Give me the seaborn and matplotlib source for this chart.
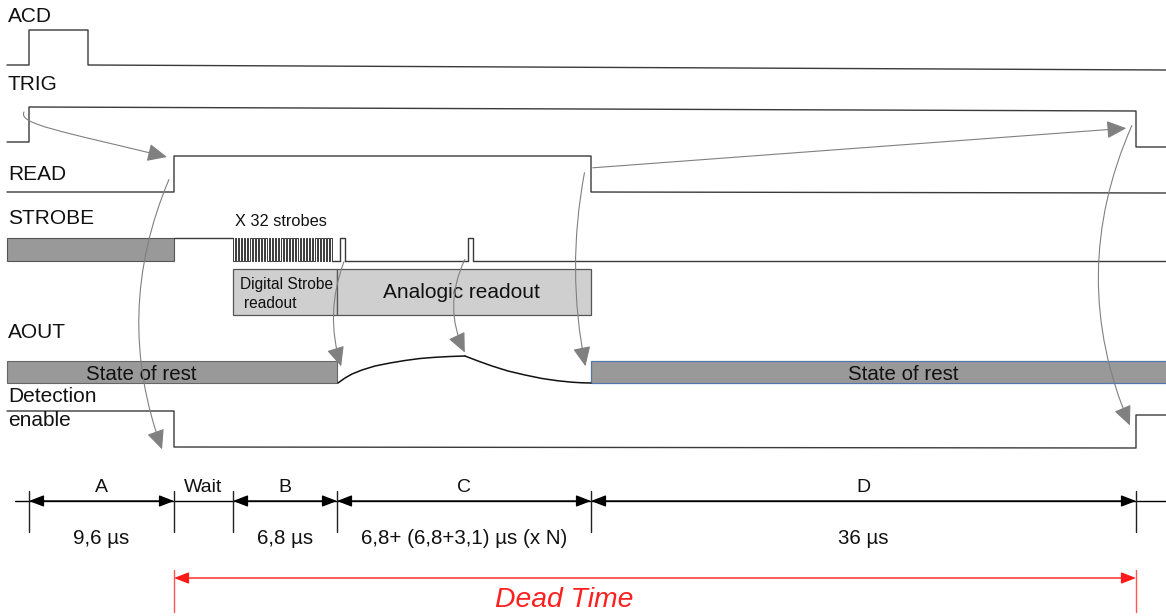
import matplotlib
matplotlib.use("Agg")
import matplotlib.pyplot as plt
import seaborn as sns
from matplotlib.patches import Rectangle, FancyArrowPatch
from matplotlib.path import Path

# ---------------- data (diagram units: horizontal = time axis, vertical = lane) --------------
# key instants on the time axis
t_start, t_trig, t_acd_end, t_read, t_b, t_c, t_d, t_end, t_right = 7, 29, 88, 174, 233, 337, 591, 1136, 1166
t_pulse1, t_pulse2, pulse_w = 340, 468, 5
n_strobes = 32
t_strobe_end = 332

acd_x = [t_start, t_trig, t_trig, t_acd_end, t_acd_end, t_right]
acd_y = [65, 65, 30, 30, 65, 70]

trig_x = [t_start, t_trig, t_trig, t_end, t_end, t_right]
trig_y = [142, 142, 107, 111, 147, 147]

read_x = [t_start, t_read, t_read, t_d, t_d, t_right]
read_y = [192, 192, 156, 156, 192, 193]

det_x = [t_start, t_read, t_read, t_end, t_end, t_right]
det_y = [411, 411, 447, 448, 415, 415]

# AOUT analog curve
aout_rise_x = [338, 345, 352, 362, 375, 390, 405, 420, 435, 450, 465]
aout_rise_y = [383, 378, 374, 370, 366, 363, 360.5, 358.5, 357.3, 356.5, 356]
aout_fall_x = [465, 478, 492, 508, 525, 542, 558, 572, 582, 591]
aout_fall_y = [356, 361, 366, 371, 375, 378.5, 380.8, 382.2, 382.8, 383]

lane_labels = ["ACD", "TRIG", "READ", "STROBE", "AOUT", "Detection", "enable"]
lane_label_y = [16, 85, 174, 219, 333, 397, 420]

dim_edges = [t_trig, t_read, t_b, t_c, t_d, t_end]
dim_names = ["A", "Wait", "B", "C", "D"]
dim_values = ["9,6 µs", "", "6,8 µs", "6,8+ (6,8+3,1) µs (x N)", "36 µs"]
dim_arrows = [True, False, True, True, True]

# ---------------- figure ----------------
sns.set_theme(style="white")
plt.rcParams['font.family'] = ['Liberation Sans', 'DejaVu Sans']
fig = plt.figure(figsize=(11.66, 6.16), dpi=100)
ax = fig.add_axes([0, 0, 1, 1])
ax.set_xlim(0, 1166)
ax.set_ylim(616, 0)
ax.axis("off")

sig_col = "#3a3a3a"
lw = 1.0
txt_col = "#111111"

def wave(xs, ys, col=sig_col, w=lw):
    sns.lineplot(x=xs, y=ys, sort=False, estimator=None, color=col, lw=w, ax=ax)

wave(acd_x, acd_y)
wave(trig_x, trig_y)
wave(read_x, read_y)
wave(det_x, det_y)

# STROBE lane
strobe_hi, strobe_lo = 238, 261
ax.add_patch(Rectangle((t_start, strobe_hi), t_read - t_start, strobe_lo - strobe_hi,
                       facecolor="#999999", edgecolor="#555555", lw=0.8))
wave([t_read, t_b], [strobe_hi, strobe_hi])
period = (t_strobe_end - t_b) / n_strobes
sx, sy = [t_b], [strobe_hi]
for i in range(n_strobes):
    x0 = t_b + i * period
    sx += [x0, x0, x0 + period / 2, x0 + period / 2]
    sy += [strobe_hi, strobe_lo, strobe_lo, strobe_hi]
sx += [t_strobe_end, t_strobe_end]
sy += [strobe_hi, strobe_lo]
wave(sx, sy, w=0.7)
wave([t_strobe_end, t_pulse1, t_pulse1, t_pulse1 + pulse_w, t_pulse1 + pulse_w,
      t_pulse2, t_pulse2, t_pulse2 + pulse_w, t_pulse2 + pulse_w, t_right],
     [strobe_lo, strobe_lo, strobe_hi, strobe_hi, strobe_lo,
      strobe_lo, strobe_hi, strobe_hi, strobe_lo, strobe_lo])
ax.text(235, 222, "X 32 strobes", fontsize=11.8, va="center", ha="left", color=txt_col)

# readout boxes
box_top, box_bot = 269, 315
ax.add_patch(Rectangle((t_b, box_top), t_c - t_b, box_bot - box_top,
                       facecolor="#cfcfcf", edgecolor="#555555", lw=0.9))
ax.add_patch(Rectangle((t_c, box_top), t_d - t_c, box_bot - box_top,
                       facecolor="#cfcfcf", edgecolor="#555555", lw=0.9))
ax.text(240, 284, "Digital Strobe", fontsize=11.2, va="center", ha="left", color=txt_col)
ax.text(244, 303, "readout", fontsize=11.2, va="center", ha="left", color=txt_col)
ax.text(461, 293, "Analogic readout", fontsize=15, va="center", ha="center", color=txt_col)

# AOUT lane
rest_top, rest_bot = 361, 383
ax.add_patch(Rectangle((t_start, rest_top), t_c - t_start, rest_bot - rest_top,
                       facecolor="#999999", edgecolor="#666666", lw=0.8))
ax.add_patch(Rectangle((t_d, rest_top), t_right - t_d + 5, rest_bot - rest_top,
                       facecolor="#999999", edgecolor="#5577aa", lw=0.9))
ax.text(141, 374, "State of rest", fontsize=14.8, va="center", ha="center", color=txt_col)
ax.text(903, 374, "State of rest", fontsize=14.8, va="center", ha="center", color=txt_col)
wave(aout_rise_x, aout_rise_y, col="#111111", w=1.1)
wave(aout_fall_x, aout_fall_y, col="#111111", w=1.1)

# lane labels
for lab, y in zip(lane_labels, lane_label_y):
    ax.text(8, y, lab, fontsize=15, va="center", ha="left", color=txt_col)

# causal arrows
arr_col = "#808080"
arr_style = "-|>,head_length=1.1,head_width=0.5"
def carrow(p0, p1, rad):
    a = FancyArrowPatch(p0, p1, connectionstyle=f"arc3,rad={rad}",
                        arrowstyle=arr_style,
                        mutation_scale=11, color=arr_col, lw=0.8, zorder=5)
    ax.add_patch(a)

# hooked arrow TRIG -> READ
hook = Path([(24, 112), (18, 124), (60, 131), (167, 157)],
            [Path.MOVETO, Path.CURVE4, Path.CURVE4, Path.CURVE4])
ax.add_patch(FancyArrowPatch(path=hook, arrowstyle=arr_style, mutation_scale=11,
                             color=arr_col, lw=0.8, zorder=5))
carrow((170, 177), (163, 452), 0.2)
carrow((345, 259), (342, 369), 0.18)
carrow((466, 257), (466, 355), 0.25)
carrow((585, 170), (586, 369), 0.1)
carrow((590, 168), (1129, 128), 0.0)
carrow((1133, 123), (1131, 428), 0.22)

# dimension line
dim_y = 501
ax.plot([15, t_right], [dim_y, dim_y], color="black", lw=1.0)
for x in dim_edges:
    ax.plot([x, x], [491, 532], color="#222222", lw=1.0)
for i, name in enumerate(dim_names):
    x0, x1 = dim_edges[i], dim_edges[i + 1]
    xm = (x0 + x1) / 2
    if dim_arrows[i]:
        ax.annotate("", xy=(x1, dim_y), xytext=(x0, dim_y),
                    arrowprops=dict(arrowstyle="<|-|>,head_length=0.9,head_width=0.35",
                                    mutation_scale=10, color="black", lw=1.0,
                                    shrinkA=0, shrinkB=0))
    ax.text(xm, 487, name, fontsize=14, ha="center", va="center", color=txt_col)
    if dim_values[i]:
        ax.text(xm, 539, dim_values[i], fontsize=14.8, ha="center", va="center", color=txt_col)

# dead time
dead_y = 578
for x in [t_read, t_end]:
    ax.plot([x, x], [570, 612], color="#ff5555", lw=1.0)
ax.annotate("", xy=(t_end, dead_y), xytext=(t_read, dead_y),
            arrowprops=dict(arrowstyle="<|-|>,head_length=0.9,head_width=0.35",
                            mutation_scale=10, color="#ff1a1a", lw=1.0,
                            shrinkA=0, shrinkB=0))
ax.text(564, 600, "Dead Time", fontsize=20.4, style="italic", ha="center", va="center", color="#ff2020")

fig.savefig("out.png", dpi=100)
